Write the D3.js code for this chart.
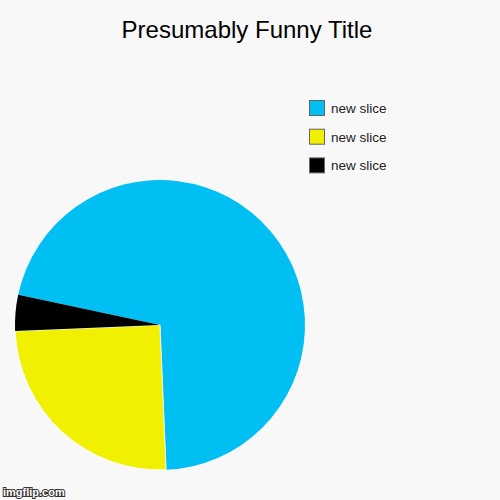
<!DOCTYPE html>
<html>
<head>
<meta charset="utf-8">
<script src="https://cdn.jsdelivr.net/npm/d3@7"></script>
<style>
  body { margin: 0; background: #f8f8f8; }
  svg { display: block; font-family: "Liberation Sans", Arial, sans-serif; }
</style>
</head>
<body>
<div id="chart"></div>
<script>
const labels = ["new slice", "new slice", "new slice"];
const values = [71, 25, 4];
const colors = ["#00c0f3", "#f0f000", "#000000"];

const width = 500;
const height = 500;
const radius = 145;
const cx = 160;
const cy = 325;

const svg = d3
  .select("#chart")
  .append("svg")
  .attr("width", width)
  .attr("height", height);

svg
  .append("rect")
  .attr("width", width)
  .attr("height", height)
  .attr("fill", "#f8f8f8");

svg
  .append("text")
  .attr("x", 247)
  .attr("y", 38)
  .attr("text-anchor", "middle")
  .style("font-size", "24px")
  .style("fill", "#000")
  .text("Presumably Funny Title");

const startDeg = -78;
const pie = d3
  .pie()
  .value((d) => d)
  .sort(null)
  .startAngle((startDeg * Math.PI) / 180)
  .endAngle(((startDeg + 360) * Math.PI) / 180);

const arc = d3.arc().innerRadius(0).outerRadius(radius);

const g = svg.append("g").attr("transform", `translate(${cx}, ${cy})`);

g.selectAll("path")
  .data(pie(values))
  .enter()
  .append("path")
  .attr("d", arc)
  .attr("fill", (d, i) => colors[i])
  .attr("stroke", (d, i) => (i === 1 ? "#ffffff" : "none"))
  .attr("stroke-width", 1);

const legend = svg
  .selectAll(".legend")
  .data(labels)
  .enter()
  .append("g")
  .attr("class", "legend")
  .attr("transform", (d, i) => `translate(309.5, ${100.5 + i * 28.7})`);

legend
  .append("rect")
  .attr("width", 15)
  .attr("height", 15)
  .attr("fill", (d, i) => colors[i])
  .attr("stroke", "#666")
  .attr("stroke-width", 1);

legend
  .append("text")
  .attr("x", 21.5)
  .attr("y", 12.5)
  .style("font-size", "13.5px")
  .style("fill", "#222")
  .text((d) => d);

svg
  .append("text")
  .attr("x", 3)
  .attr("y", 496)
  .style("font-size", "11px")
  .style("font-weight", "bold")
  .style("fill", "#fff")
  .style("stroke", "#333")
  .style("stroke-width", 2)
  .style("paint-order", "stroke")
  .text("imgflip.com");
</script>
</body>
</html>
